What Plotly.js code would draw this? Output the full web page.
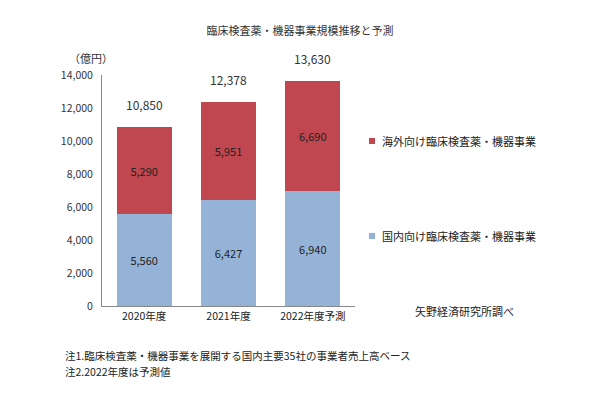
<!DOCTYPE html>
<html><head><meta charset="utf-8">
<script src="https://cdn.plot.ly/plotly-3.0.1.min.js"></script>
<style>html,body{margin:0;padding:0;background:#fff}#chart{width:600px;height:395px}</style>
</head><body><div id="chart"></div>
<script>
var categories = ['2020年度', '2021年度', '2022年度予測'];
var domestic = [5560, 6427, 6940];
var overseas = [5290, 5951, 6690];
var totals = [10850, 12378, 13630];
var tickVals = [0, 2000, 4000, 6000, 8000, 10000, 12000, 14000];
var tickText = ['0', '2,000', '4,000', '6,000', '8,000', '10,000', '12,000', '14,000'];
var nameDomestic = '国内向け臨床検査薬・機器事業';
var nameOverseas = '海外向け臨床検査薬・機器事業';
var colorDomestic = '#95B3D7';
var colorOverseas = '#C0474F';

var fnt = '"Noto Sans CJK JP", "Liberation Sans", sans-serif';
function fmt(v){return v.toLocaleString('en-US');}

var traces = [
  {type:'bar', x:categories, y:domestic, name:nameDomestic,
   marker:{color:colorDomestic}, text:domestic.map(fmt), textposition:'inside',
   insidetextanchor:'middle', textfont:{size:11, color:'#222', family:fnt}, hoverinfo:'none'},
  {type:'bar', x:categories, y:overseas, name:nameOverseas,
   marker:{color:colorOverseas}, text:overseas.map(fmt), textposition:'inside',
   insidetextanchor:'middle', textfont:{size:11, color:'#222', family:fnt}, hoverinfo:'none'}
];

var annotations = categories.map(function(c,i){
  return {x:c, y:totals[i], text:fmt(totals[i]), showarrow:false, yanchor:'bottom', yshift:12,
          font:{size:12, color:'#333', family:fnt}};
});
annotations.push({xref:'paper', yref:'paper', x:-0.14, y:1.075, xanchor:'left', yanchor:'middle',
  text:'（億円）', showarrow:false, font:{size:11, color:'#333', family:fnt}});
annotations.push({xref:'paper', yref:'paper', x:1.23, y:-0.02, xanchor:'left', yanchor:'middle',
  text:'矢野経済研究所調べ', showarrow:false, font:{size:11, color:'#222', family:fnt}});
annotations.push({xref:'paper', yref:'paper', x:-0.155, y:-0.215, xanchor:'left', yanchor:'middle',
  text:'注1.臨床検査薬・機器事業を展開する国内主要35社の事業者売上高ベース', showarrow:false, font:{size:10.5, color:'#222', family:fnt}});
annotations.push({xref:'paper', yref:'paper', x:-0.155, y:-0.285, xanchor:'left', yanchor:'middle',
  text:'注2.2022年度は予測値', showarrow:false, font:{size:10.5, color:'#222', family:fnt}});

// manual legend (positions in paper coords: plot x 102..355, y 306..75)
var legendItems = [
  {name:nameOverseas, color:colorOverseas, y:(306-141)/231},
  {name:nameDomestic, color:colorDomestic, y:(306-236)/231}
];
var shapes = [];
legendItems.forEach(function(it){
  var x0 = (369-102)/253, x1 = (375-102)/253;
  var dy = 3/231;
  shapes.push({type:'rect', xref:'paper', yref:'paper', x0:x0, x1:x1, y0:it.y-dy, y1:it.y+dy,
    fillcolor:it.color, line:{width:0}});
  annotations.push({xref:'paper', yref:'paper', x:(380-102)/253, y:it.y, xanchor:'left', yanchor:'middle',
    text:it.name, showarrow:false, font:{size:11, color:'#222', family:fnt}});
});

var layout = {
  width:600, height:395,
  margin:{l:102, r:245, t:75, b:89},
  paper_bgcolor:'#fff', plot_bgcolor:'#fff',
  barmode:'stack', bargap:0.35,
  title:{text:'臨床検査薬・機器事業規模推移と予測', x:0.5, xref:'container', xanchor:'center',
         y:0.92, yanchor:'middle', font:{size:11, color:'#333', family:fnt}},
  font:{family:fnt, color:'#333'},
  xaxis:{showline:true, linecolor:'#888', linewidth:1, ticks:'', tickfont:{size:10.5, color:'#222'},
         fixedrange:true},
  yaxis:{range:[0,14000], tickvals:tickVals, ticktext:tickText, showgrid:false, zeroline:false,
         showline:true, linecolor:'#888', linewidth:1, ticks:'', tickfont:{size:10.5, color:'#333'},
         ticklabelstandoff:6, fixedrange:true},
  showlegend:false,
  shapes:shapes,
  annotations:annotations
};
Plotly.newPlot('chart', traces, layout, {displayModeBar:false, staticPlot:true});
</script></body></html>
